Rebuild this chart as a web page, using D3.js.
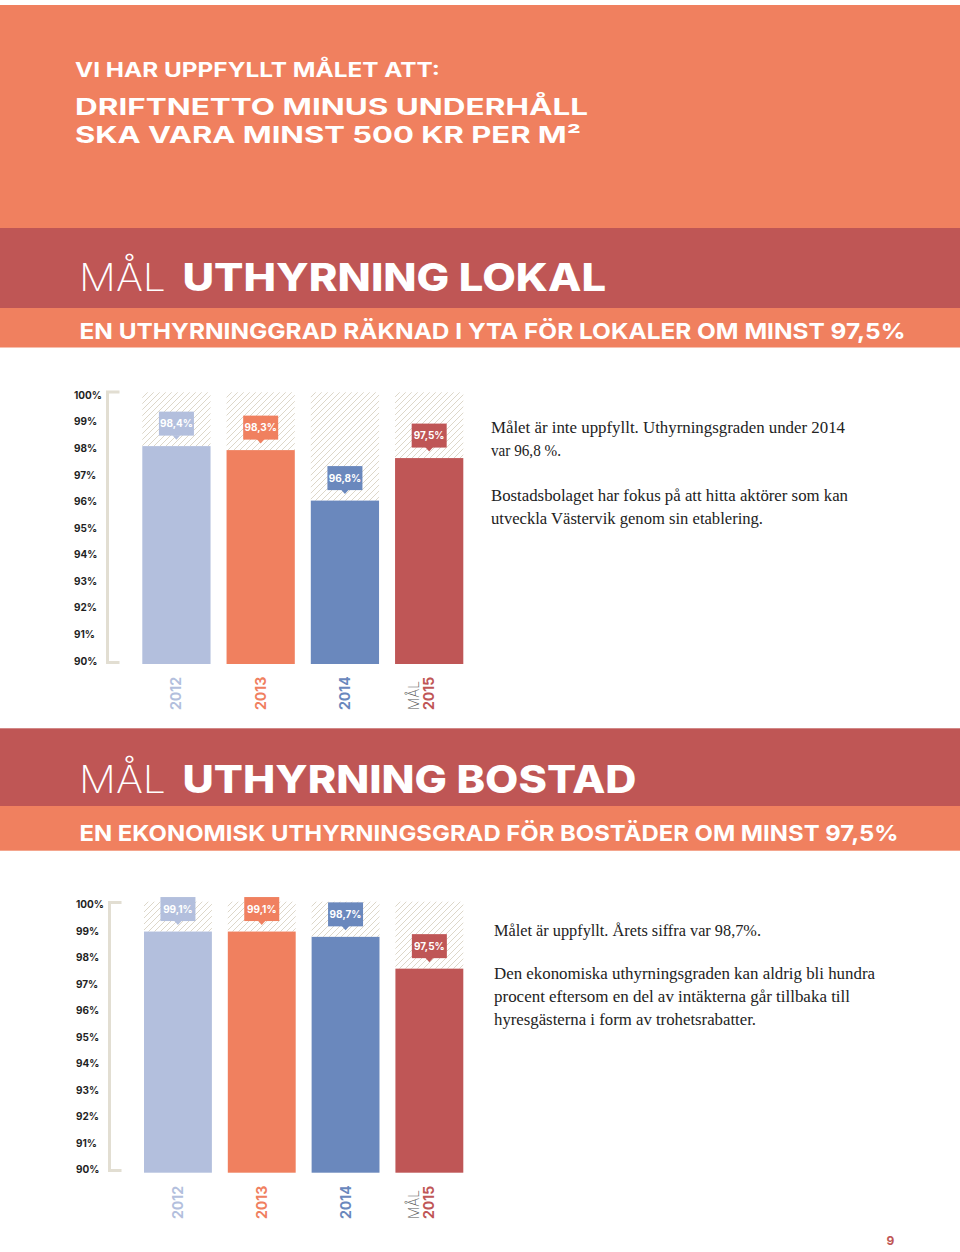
<!DOCTYPE html>
<html><head><meta charset="utf-8">
<script src="https://cdn.jsdelivr.net/npm/d3@7"></script>
<style>body{margin:0;background:#fff}svg{display:block}</style>
</head><body>
<script>
// ---------- DATA ----------
const years = ["2012", "2013", "2014", "2015"];
const lokalValues = [98.2, 98.05, 96.15, 97.75];       // bar heights as drawn
const lokalLabels = ["98,4%", "98,3%", "96,8%", "97,5%"];
const bostadValues = [99.1, 99.1, 98.9, 97.7];
const bostadLabels = ["99,1%", "99,1%", "98,7%", "97,5%"];
const tickValues = [90, 91, 92, 93, 94, 95, 96, 97, 98, 99, 100];
const tickLabels = ["90%", "91%", "92%", "93%", "94%", "95%", "96%", "97%", "98%", "99%", "100%"];
const barColors = ["#b3bfdd", "#f0805f", "#6a88bd", "#bf5656"];
const goalPrefix = ["", "", "", "MÅL"];

const headerLine0 = "VI HAR UPPFYLLT MÅLET ATT:";
const headerLine1 = "DRIFTNETTO MINUS UNDERHÅLL";
const headerLine2 = "SKA VARA MINST 500 KR PER M²";
const lokalTitle = "UTHYRNING LOKAL";
const lokalSub = "EN UTHYRNINGGRAD RÄKNAD I YTA FÖR LOKALER OM MINST 97,5%";
const bostadTitle = "UTHYRNING BOSTAD";
const bostadSub = "EN EKONOMISK UTHYRNINGSGRAD FÖR BOSTÄDER OM MINST 97,5%";
const lokalText = ["Målet är inte uppfyllt. Uthyrningsgraden under 2014", "var 96,8 %.", "", "Bostadsbolaget har fokus på att hitta aktörer som kan", "utveckla Västervik genom sin etablering."];
const bostadText = ["Målet är uppfyllt. Årets siffra var 98,7%.", "", "Den ekonomiska uthyrningsgraden kan aldrig bli hundra", "procent eftersom en del av intäkterna går tillbaka till", "hyresgästerna i form av trohetsrabatter."];
const pageNumber = "9";

// ---------- STYLE ----------
const SALMON = "#f0805f", DARK = "#bf5655";
const SANS = "Inter, 'Open Sans', Lato, sans-serif";
const SERIF = "'Liberation Serif', 'DejaVu Serif', serif";

const svg = d3.select("body").append("svg").attr("width", 960).attr("height", 1252);

const defs = svg.append("defs");
const pat = defs.append("pattern").attr("id", "hatch").attr("patternUnits", "userSpaceOnUse")
  .attr("width", 6).attr("height", 6);
pat.append("path").attr("d", "M-1,1 l2,-2 M0,6 l6,-6 M5,7 l2,-2")
  .attr("stroke", "#ddd7c9").attr("stroke-width", 1);

function txt(g, s, x, y, size, weight, fill, len, family) {
  const t = g.append("text").attr("x", x).attr("y", y).text(s)
    .attr("font-family", family || SANS).attr("font-size", size)
    .attr("font-weight", weight).attr("fill", fill);
  if (len) t.attr("textLength", len).attr("lengthAdjust", "spacingAndGlyphs");
  return t;
}

// ---------- HEADER BANDS ----------
svg.append("rect").attr("x", 0).attr("y", 5).attr("width", 960).attr("height", 223).attr("fill", SALMON);
txt(svg, headerLine0, 75, 77, 20, 700, "#fff", 365);
txt(svg, headerLine1, 75, 114.5, 23, 700, "#fff", 513);
txt(svg, headerLine2, 75, 142.5, 23, 700, "#fff", 506);

function section(y0, yMid, y1, title, titleLen, sub, subLen, titleBase, subBase) {
  svg.append("rect").attr("x", 0).attr("y", y0).attr("width", 960).attr("height", yMid - y0).attr("fill", DARK);
  svg.append("rect").attr("x", 0).attr("y", yMid).attr("width", 960).attr("height", y1 - yMid).attr("fill", SALMON);
  txt(svg, "MÅL", 79, titleBase, 38, 200, "#fff", 87);
  txt(svg, title, 182.5, titleBase, 38, 800, "#fff", titleLen);
  txt(svg, sub, 79.5, subBase, 22, 700, "#fff", subLen);
}
section(228, 308, 347.5, lokalTitle, 423.5, lokalSub, 826, 291, 339);
section(728.3, 806, 850.7, bostadTitle, 454, bostadSub, 819, 793, 840.5);

// ---------- CHARTS ----------
function drawChart(cfg, values, labels, texts) {
  const g = svg.append("g");
  const y = d3.scaleLinear().domain([90, 100]).range([cfg.bottom, cfg.bottom - cfg.span]);
  const x = d3.scaleBand().domain(years).range([cfg.x0, cfg.x1]).paddingInner(0.19).paddingOuter(0);

  // tick labels
  g.selectAll(".tick").data(tickValues).join("text")
    .attr("x", cfg.labelX).attr("y", d => y(d) - 3).attr("dy", "0.35em")
    .attr("font-family", SANS).attr("font-size", 10).attr("font-weight", 700).attr("fill", "#1f1f1f")
    .text((d, i) => tickLabels[i]);

  // bracket
  g.append("path")
    .attr("d", `M${cfg.bx + 12},${cfg.bTop}H${cfg.bx}V${cfg.bBottom}H${cfg.bx + 12}`)
    .attr("fill", "none").attr("stroke", "#e2ded2").attr("stroke-width", 3);

  // hatch background
  g.selectAll(".bg").data(values).join("rect")
    .attr("x", (d, i) => x(years[i])).attr("width", x.bandwidth())
    .attr("y", y(100) - 6).attr("height", d => y(d) - (y(100) - 6))
    .attr("fill", "url(#hatch)");

  // bars
  g.selectAll(".bar").data(values).join("rect")
    .attr("x", (d, i) => x(years[i])).attr("width", x.bandwidth())
    .attr("y", d => y(d)).attr("height", d => y(90) - y(d))
    .attr("fill", (d, i) => barColors[i]);

  // callouts
  values.forEach((v, i) => {
    const cx = x(years[i]) + x.bandwidth() / 2;
    const bb = y(v) - 10.5, bh = 24, bw = 35;
    g.append("rect").attr("x", cx - bw / 2).attr("y", bb - bh).attr("width", bw).attr("height", bh)
      .attr("fill", barColors[i]);
    g.append("path").attr("d", `M${cx - 4},${bb - 0.5}L${cx + 4},${bb - 0.5}L${cx},${bb + 4}Z`).attr("fill", barColors[i]);
    g.append("text").attr("x", cx).attr("y", bb - bh / 2).attr("dy", "0.35em")
      .attr("text-anchor", "middle").attr("font-family", SANS).attr("font-size", 10)
      .attr("font-weight", 700).attr("fill", "#fff").text(labels[i]);

    // x labels (rotated)
    g.append("text").attr("transform", `translate(${cx + 5},${cfg.xLabY}) rotate(-90)`)
      .attr("font-family", SANS).attr("font-size", 14).attr("font-weight", 700)
      .attr("fill", barColors[i]).text(years[i]);
    if (goalPrefix[i]) {
      g.append("text").attr("transform", `translate(${cx - 10},${cfg.xLabY}) rotate(-90)`)
        .attr("font-family", SANS).attr("font-size", 14).attr("font-weight", 200)
        .attr("fill", "#555").attr("textLength", 29).attr("lengthAdjust", "spacingAndGlyphs")
        .text(goalPrefix[i]);
    }
  });

  // side text
  texts.forEach((s, i) => {
    if (!s) return;
    g.append("text").attr("x", cfg.tx).attr("y", cfg.tBase[i]).text(s)
      .attr("font-family", SERIF).attr("font-size", 16).attr("fill", "#222")
      .attr("textLength", cfg.tLen[i]).attr("lengthAdjust", "spacingAndGlyphs");
  });
}

drawChart({bottom: 664, span: 265.7, x0: 142.3, x1: 463.3, labelX: 74, bx: 107.5, bTop: 392, bBottom: 662.5,
  xLabY: 710, tx: 491, tBase: [433, 455.5, 0, 501, 523.5], tLen: [354, 70, 0, 357, 272]},
  lokalValues, lokalLabels, lokalText);

drawChart({bottom: 1172.7, span: 265, x0: 144, x1: 463.3, labelX: 76, bx: 109.5, bTop: 902.5, bBottom: 1170.5,
  xLabY: 1219, tx: 494, tBase: [936, 0, 979, 1002, 1025], tLen: [267, 0, 381, 356, 262]},
  bostadValues, bostadLabels, bostadText);

txt(svg, pageNumber, 886.5, 1245, 12, 700, DARK);
</script>
</body></html>
